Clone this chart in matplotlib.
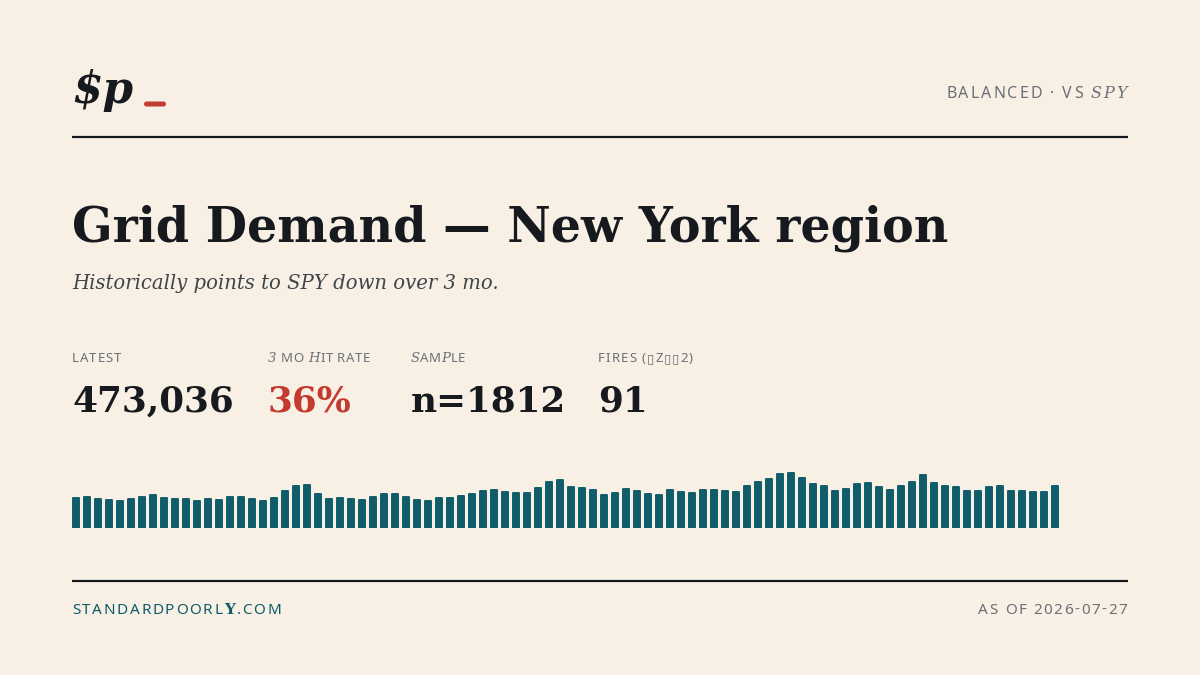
import matplotlib
matplotlib.use('Agg')
import matplotlib.pyplot as plt
from matplotlib.patches import FancyBboxPatch

BG = '#F8F0E4'
INK = '#161A1F'
GREY = '#6B7078'
TEAL = '#0F5C6A'
RED = '#C23B2E'

title = 'Grid Demand — New York region'
subtitle = 'Historically points to SPY down over 3 mo.'
header_right = 'BALANCED · VS SPY'
stat_labels = ['LATEST', '3 MO HIT RATE', 'SAMPLE', 'FIRES (▯Z▯▯2)']
stat_values = ['473,036', '36%', 'n=1812', '91']
stat_colors = [INK, RED, INK, INK]
footer_left = 'STANDARDPOORLY.COM'
footer_right = 'AS OF 2026-07-27'

# sparkline values (arbitrary units)
bar_values = [30.3, 31.3, 29.3, 28.3, 27.3, 29.3, 31.3, 33.3, 30.3, 29.3,
              29.3, 27.3, 29.3, 28.3, 31.3, 31.3, 29.3, 27.3, 30.3, 37.3,
              42.3, 43.3, 34.3, 29.3, 30.3, 29.3, 28.3, 31.3, 34.3, 34.3,
              31.3, 28.3, 27.3, 30.3, 30.3, 32.3, 34.3, 37.3, 38.3, 36.3,
              35.3, 35.3, 40.3, 46.3, 48.3, 41.3, 40.3, 38.3, 33.3, 35.3,
              39.3, 37.3, 34.3, 33.3, 38.3, 36.3, 35.3, 38.3, 38.3, 37.3,
              36.3, 42.3, 46.3, 49.3, 54.3, 55.3, 50.3, 44.3, 42.3, 37.3,
              39.3, 44.3, 45.3, 41.3, 38.3, 42.3, 46.3, 53.3, 45.3, 42.3,
              41.3, 37.3, 37.3, 41.3, 42.3, 37.3, 37.3, 36.3, 36.3, 42.3]

fig = plt.figure(figsize=(12, 6.75), dpi=100, facecolor=BG)
ax = fig.add_axes([0, 0, 1, 1])
ax.set_xlim(0, 1200)
ax.set_ylim(675, 0)
ax.axis('off')
r = fig.canvas.get_renderer()
SANS = ['Noto Sans', 'DejaVu Sans']


def fit(t, w):
    # scale font so the text is w px wide
    bb = t.get_window_extent(r)
    t.set_fontsize(t.get_fontsize() * w / bb.width)
    return t


def spaced(x, y, s, size, color, width, special=None, ha='left'):
    # letter-spaced text, drawn char by char
    special = special or {}
    arts, ws = [], []
    for i, ch in enumerate(s):
        kw = dict(family=SANS, fontsize=size)
        kw.update(special.get(i, {}))
        t = ax.text(0, y, ch, color=color, va='baseline', ha='left', **kw)
        arts.append(t)
        if ch == ' ':
            ws.append(size * 0.26 * 100 / 72)
        else:
            ws.append(t.get_window_extent(r).width)
    gap = (width - sum(ws)) / (len(s) - 1)
    x0 = x - width if ha == 'right' else x
    for t, w in zip(arts, ws):
        t.set_x(x0)
        x0 += w + gap


# header
fit(ax.text(72, 103, '$p', family='DejaVu Serif', weight='bold', style='italic',
            color=INK, fontsize=30, va='baseline'), 61)
ax.add_patch(FancyBboxPatch((144, 101.5), 22, 5, boxstyle='round,pad=0,rounding_size=2.5',
                            fc=RED, ec='none'))
serif_it = dict(family='DejaVu Serif', style='italic')
spaced(1127, 98, header_right, 11.5, GREY, 181,
       special={14: serif_it, 15: serif_it, 16: serif_it}, ha='right')
ax.plot([72, 1128], [137, 137], color=INK, lw=1.6, solid_capstyle='butt')

# title block
fit(ax.text(72, 242, title, family='DejaVu Serif', weight='bold', color=INK,
            fontsize=38, va='baseline'), 876)
fit(ax.text(72, 289, subtitle, family='DejaVu Serif', style='italic', color='#40454C',
            fontsize=16, va='baseline'), 428)

# stats
stat_x = [72, 268, 411, 598]
label_w = [49, 102, 54, 95]
label_special = [{}, {0: serif_it, 5: serif_it}, {0: serif_it, 3: serif_it}, {}]
for lx, lab, lw_, sp in zip(stat_x, stat_labels, label_w, label_special):
    spaced(lx, 362, lab, 9.5, GREY, lw_, special=sp)

v0 = fit(ax.text(stat_x[0], 412, stat_values[0], family='DejaVu Serif', weight='bold',
                 color=stat_colors[0], fontsize=28, va='baseline'), 162)
for vx, val, col in zip(stat_x[1:], stat_values[1:], stat_colors[1:]):
    ax.text(vx, 412, val, family='DejaVu Serif', weight='bold', color=col,
            fontsize=v0.get_fontsize(), va='baseline')

# sparkline
bax = fig.add_axes([72 / 1200, (675 - 528) / 675, 987 / 1200, 60 / 675])
bax.set_facecolor('none')
bax.bar(range(len(bar_values)), bar_values, width=0.56, color=TEAL, edgecolor=TEAL,
        linewidth=1.4, joinstyle='round')
bax.set_xlim(-4 / 11, -4 / 11 + 987 / 11)
bax.set_ylim(0, 60)
bax.axis('off')

# footer
ax.plot([72, 1128], [581, 581], color=INK, lw=1.6, solid_capstyle='butt')
spaced(72, 614, footer_left, 11, TEAL, 209,
       special={13: dict(family='DejaVu Serif', weight='bold')})
spaced(1127, 614, footer_right, 11, GREY, 149, ha='right')

fig.savefig('out.png', dpi=100, facecolor=BG)
